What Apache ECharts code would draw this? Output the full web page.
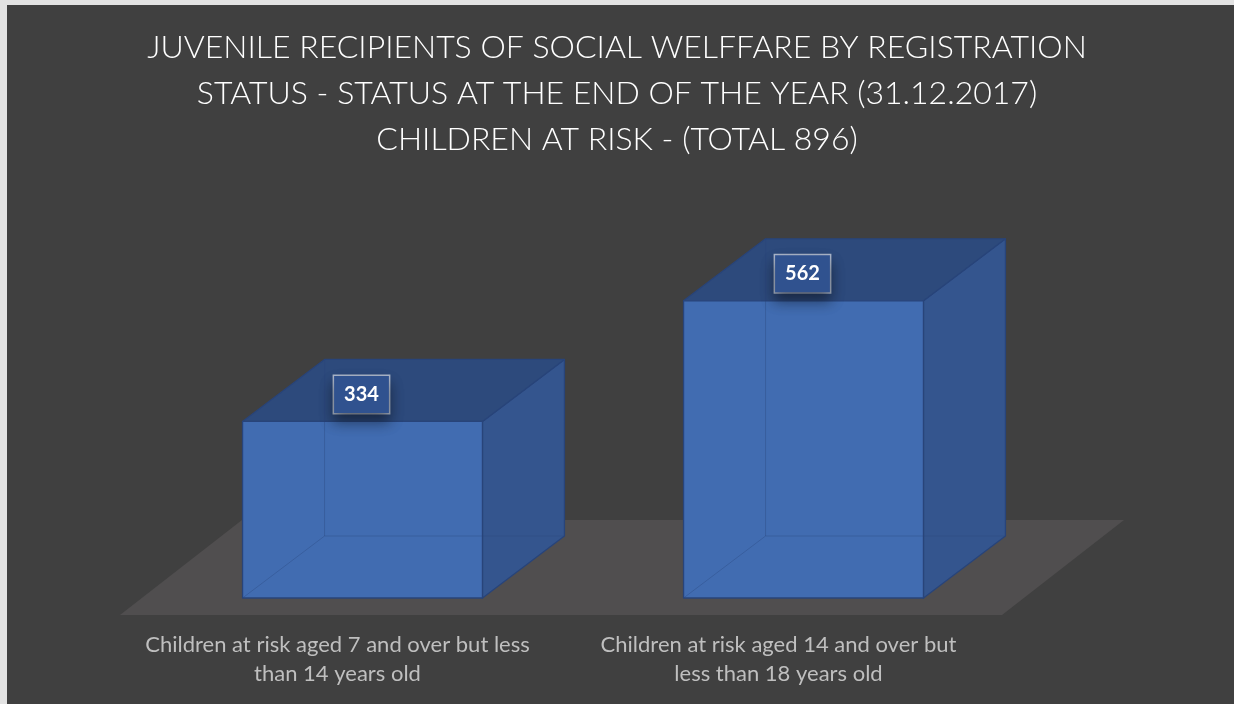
<!DOCTYPE html>
<html><head><meta charset="utf-8">
<script src="https://cdn.jsdelivr.net/npm/echarts@6/dist/echarts.min.js"></script>
<style>html,body{margin:0;padding:0;background:#404040;overflow:hidden}#c{width:1234px;height:704px}</style>
</head><body><div id="c"></div>
<script>
const titleLines = [
  'JUVENILE RECIPIENTS OF SOCIAL WELFFARE BY REGISTRATION',
  'STATUS - STATUS AT THE END OF THE YEAR (31.12.2017)',
  'CHILDREN AT RISK - (TOTAL 896)'
];
const categories = [
  'Children at risk aged 7 and over but less\nthan 14 years old',
  'Children at risk aged 14 and over but\nless than 18 years old'
];
const values = [334, 562];
const yMax = 800;

const FRONT = '#416cb1', RIGHT = '#34558e', TOPC = '#2d4a7c', EDGE = '#28447a';
const DX = 82, DY = -62;

function renderFloor(params, api) {
  const cs = params.coordSys;
  const base = cs.y + cs.height;
  const pts = [
    [cs.x - 22, base + 17],
    [cs.x + cs.width - 22, base + 17],
    [cs.x + cs.width + 100, base - 78],
    [cs.x + 100, base - 78]
  ];
  return { type: 'polygon', shape: { points: pts }, style: { fill: '#504e4f' } };
}

function renderBox(params, api) {
  const i = api.value(0), v = api.value(1);
  const top = api.coord([i, v]), base = api.coord([i, 0]);
  const bw = api.size([1, 0])[0] * 0.544;
  const cx = top[0];
  const x0 = cx - bw / 2, x1 = cx + bw / 2, yt = top[1], yb = base[1];
  const edge = { stroke: EDGE, lineWidth: 1.3, lineJoin: 'round' };
  const hid = { stroke: 'rgba(40,68,122,0.35)', lineWidth: 1, fill: null };
  return {
    type: 'group',
    children: [
      { type: 'polygon', shape: { points: [[x1, yt], [x1 + DX, yt + DY], [x1 + DX, yb + DY], [x1, yb]] },
        style: Object.assign({ fill: RIGHT }, edge) },
      { type: 'polygon', shape: { points: [[x0, yt], [x0 + DX, yt + DY], [x1 + DX, yt + DY], [x1, yt]] },
        style: Object.assign({ fill: TOPC }, edge) },
      { type: 'rect', shape: { x: x0, y: yt, width: bw, height: yb - yt },
        style: Object.assign({ fill: FRONT }, edge) },
      { type: 'line', shape: { x1: x0, y1: yb, x2: x0 + DX, y2: yb + DY }, style: hid },
      { type: 'line', shape: { x1: x0 + DX, y1: yb + DY, x2: x1 + DX, y2: yb + DY }, style: hid },
      { type: 'line', shape: { x1: x0 + DX, y1: yb + DY, x2: x0 + DX, y2: yt + DY }, style: hid },
      { type: 'text', x: cx - 1, y: yt - 27,
        style: {
          text: String(v), fill: '#ffffff', fontSize: 20, fontWeight: 'bold',
          fontFamily: 'Lato, "Open Sans", sans-serif',
          align: 'center', verticalAlign: 'middle',
          backgroundColor: '#30528f', borderColor: 'rgba(255,255,255,0.6)', borderWidth: 1.5,
          padding: [8, 10, 7, 10], lineHeight: 22,
          shadowBlur: 14, shadowColor: 'rgba(0,0,0,0.45)', shadowOffsetY: 8
        } }
    ]
  };
}

const chart = echarts.init(document.getElementById('c'));
chart.setOption({
  backgroundColor: 'transparent',
  animation: false,
  graphic: [
    { type: 'rect', z: -10, silent: true, shape: { x: 0, y: 0, width: 1234, height: 5 }, style: { fill: '#e3e3e3' } },
    { type: 'rect', z: -10, silent: true, shape: { x: 0, y: 0, width: 7, height: 704 }, style: { fill: '#e3e3e3' } }
  ],
  title: {
    text: titleLines.join('\n'), left: 'center', top: 25, padding: 0,
    textStyle: { color: '#ffffff', fontSize: 32, fontWeight: 300, lineHeight: 46,
      fontFamily: 'Lato, "Open Sans", sans-serif' }
  },
  grid: { left: 142, right: 210, top: 175, bottom: 106 },
  xAxis: {
    type: 'category', data: categories,
    axisLine: { show: false }, axisTick: { show: false }, splitLine: { show: false },
    axisLabel: { color: '#bfbfbf', fontSize: 22, lineHeight: 29, margin: 32,
      padding: [0, 50, 0, 0], interval: 0,
      fontFamily: 'Lato, "Open Sans", sans-serif' }
  },
  yAxis: { type: 'value', min: 0, max: yMax, show: false, splitLine: { show: false } },
  series: [
    { type: 'custom', renderItem: renderFloor, data: [[0, 0]], z: 1, silent: true },
    { type: 'custom', renderItem: renderBox, data: values.map((v, i) => [i, v]), z: 3 }
  ]
});
</script></body></html>
